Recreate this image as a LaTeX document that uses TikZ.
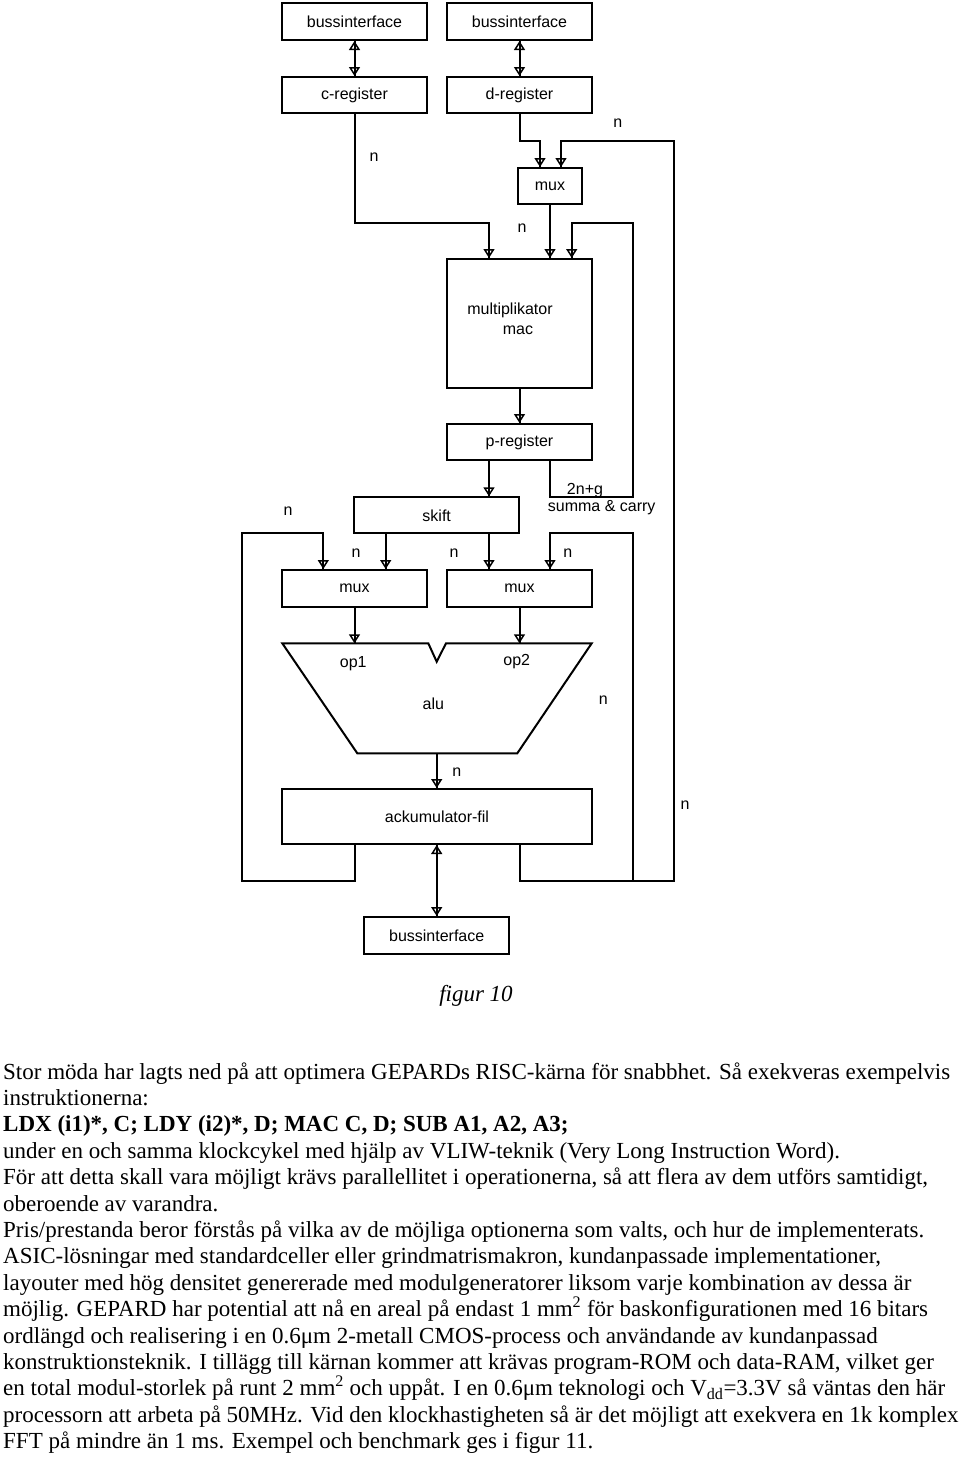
\documentclass[tikz,border=0pt]{standalone}
\usepackage{fontspec}
\setmainfont{Liberation Serif}
\newfontfamily\diagfont{Liberation Sans}
\usetikzlibrary{arrows.meta,calc,positioning}

\tikzset{
  blk/.style={draw, line width=2pt, minimum width=145pt, minimum height=37pt, inner sep=0pt, font=\diagfont\fontsize{16}{19}\selectfont},
  lbl/.style={inner sep=0pt, font=\diagfont\fontsize{16}{19}\selectfont},
  wire/.style={draw, line width=2pt},
  tri/.tip={Triangle[open,width=11pt,length=9pt,line width=1.5pt]},
  sig/.style={wire, -tri, postaction={draw,-}},
  bidir/.style={wire, tri-tri, postaction={draw,-}},
  txt/.style={anchor=base west, inner sep=0pt, font=\fontsize{23}{26}\selectfont}
}

\begin{document}
\begin{tikzpicture}[x=1pt, y=-1pt]
	\useasboundingbox (0,0) rectangle (960,1462);

	%% Register und Busse
	\node[blk] (bus1) at (354.5,21.5) {bussinterface};
	\node[blk] (bus2) at (519.5,21.5) {bussinterface};
	\node[blk, minimum height=36pt] (creg) at (354.5,95) {c-register};
	\node[blk, minimum height=36pt] (dreg) at (519.5,95) {d-register};
	\draw[bidir] (bus1) -- (creg);
	\draw[bidir] (bus2) -- (dreg);

	\node[blk, minimum width=64pt, minimum height=36pt] (muxa) at (550,186) {mux};
	\node[blk, minimum height=129pt] (mult) at (519.5,323.5) {};
	\node[lbl] (multA) at (510,310) {multiplikator};
	\node[lbl] (multB) at (518,330) {mac};
	\node[blk, minimum height=36pt] (preg) at (519.5,442) {p-register};

	\coordinate (cTurn) at (489,223);
	\coordinate (dTurn) at (540,141);
	\draw[sig] (creg.south) |- (cTurn) -- (cTurn |- mult.north);
	\draw[sig] (dreg.south) |- (dTurn) -- (dTurn |- muxa.north);
	\draw[sig] (muxa) -- (muxa |- mult.north);
	\draw[sig] (mult) -- (preg);

	%% summa & carry zurueck
	\coordinate (sumTurn) at (632.7,497);
	\coordinate (sumTop) at (571.7,223);
	\draw[sig] (preg.south -| muxa) |- (sumTurn) |- (sumTop) -- (sumTop |- mult.north);

	\node[blk, minimum width=165pt, minimum height=36pt] (skift) at (436.7,515.3) {skift};
	\draw[sig] (cTurn |- preg.south) -- (cTurn |- skift.north);

	\node[blk] (muxL) at (354.5,588.5) {mux};
	\node[blk] (muxR) at (519.5,588.5) {mux};
	\coordinate (skL) at (385.7,0);
	\draw[sig] (skL |- skift.south) -- (skL |- muxL.north);
	\draw[sig] (cTurn |- skift.south) -- (cTurn |- muxR.north);

	%% alu
	\draw[wire, line join=miter] (282.3,643.3) -- (428.3,643.3) -- (436.7,661.7) -- (446,643.3) -- (591.7,643.3) -- (517.3,753.3) -- (357.3,753.3) -- cycle;
	\coordinate (aluA) at (354.5,643.3);
	\coordinate (aluB) at (519.5,643.3);
	\coordinate (aluOut) at (436.7,753.3);
	\node[lbl] (op1) at (353.3,663.3) {op1};
	\node[lbl] (op2) at (516.7,661.7) {op2};
	\node[lbl] (alu) at (433.3,703.3) {alu};
	\draw[sig] (muxL) -- (aluA);
	\draw[sig] (muxR) -- (aluB);

	\node[blk, minimum width=310pt, minimum height=55pt] (acc) at (437,816.5) {ackumulator-fil};
	\node[blk] (bus3) at (436.7,935.5) {bussinterface};
	\draw[sig] (aluOut) -- (aluOut |- acc.north);
	\draw[bidir] (acc.south -| bus3) -- (bus3);

	%% Rueckfuehrungen
	\coordinate (loopL) at (241.7,881);
	\coordinate (fbL) at (323.3,533.3);
	\draw[sig] (acc.south -| muxL) |- (loopL) |- (fbL) -- (fbL |- muxL.north);
	\coordinate (loopR) at (674,881);
	\coordinate (fbTop) at (561,141);
	\draw[sig] (acc.south -| muxR) |- (loopR) |- (fbTop) -- (fbTop |- muxa.north);
	\coordinate (loopM) at (632.7,881);
	\coordinate (fbR) at (550,533.3);
	\draw[sig] (loopM) |- (fbR) -- (fbR |- muxR.north);

	%% Bitbreiten
	\node[lbl] (n1) at (374,157) {n};
	\node[lbl] (n2) at (617.7,123) {n};
	\node[lbl] (n3) at (522,228) {n};
	\node[lbl] (n4) at (288,511) {n};
	\node[lbl] (n5) at (356,553) {n};
	\node[lbl] (n6) at (454,553) {n};
	\node[lbl] (n7) at (567.7,553) {n};
	\node[lbl] (n8) at (603.3,700) {n};
	\node[lbl] (n9) at (456.7,772) {n};
	\node[lbl] (n10) at (685,805) {n};
	\node[lbl] (sc1) at (585,491) {2n+g};
	\node[lbl] (sc2) at (601.7,508) {summa \& carry};

	%% Text
	\node[font=\itshape\fontsize{23}{26}\selectfont, inner sep=0pt] (cap) at (476,996) {figur 10};
	\node[txt] (l1) at (3,1079) {Stor möda har lagts ned på att optimera GEPARDs RISC-kärna för snabbhet. Så exekveras exempelvis};
	\node[txt] (l2) at (3,1105.4) {instruktionerna:};
	\node[txt] (l3) at (3,1131.8) {\bfseries LDX (i1)*, C; LDY (i2)*, D; MAC C, D; SUB A1, A2, A3;};
	\node[txt] (l4) at (3,1158.2) {under en och samma klockcykel med hjälp av VLIW-teknik (Very Long Instruction Word).};
	\node[txt] (l5) at (3,1184.6) {För att detta skall vara möjligt krävs parallellitet i operationerna, så att flera av dem utförs samtidigt,};
	\node[txt] (l6) at (3,1211) {oberoende av varandra.};
	\node[txt] (l7) at (3,1237.4) {Pris/prestanda beror förstås på vilka av de möjliga optionerna som valts, och hur de implementerats.};
	\node[txt] (l8) at (3,1263.8) {ASIC-lösningar med standardceller eller grindmatrismakron, kundanpassade implementationer,};
	\node[txt] (l9) at (3,1290.2) {layouter med hög densitet genererade med modulgeneratorer liksom varje kombination av dessa är};
	\node[txt] (l10) at (3,1316.6) {möjlig. GEPARD har potential att nå en areal på endast 1 mm\textsuperscript{2} för baskonfigurationen med 16 bitars};
	\node[txt] (l11) at (3,1343) {ordlängd och realisering i en 0.6μm 2-metall CMOS-process och användande av kundanpassad};
	\node[txt] (l12) at (3,1369.4) {konstruktionsteknik. I tillägg till kärnan kommer att krävas program-ROM och data-RAM, vilket ger};
	\node[txt] (l13) at (3,1395.8) {en total modul-storlek på runt 2 mm\textsuperscript{2} och uppåt. I en 0.6μm teknologi och V\textsubscript{dd}=3.3V så väntas den här};
	\node[txt] (l14) at (3,1422.2) {processorn att arbeta på 50MHz. Vid den klockhastigheten så är det möjligt att exekvera en 1k komplex};
	\node[txt] (l15) at (3,1448.6) {FFT på mindre än 1 ms. Exempel och benchmark ges i figur 11.};
\end{tikzpicture}
\end{document}
